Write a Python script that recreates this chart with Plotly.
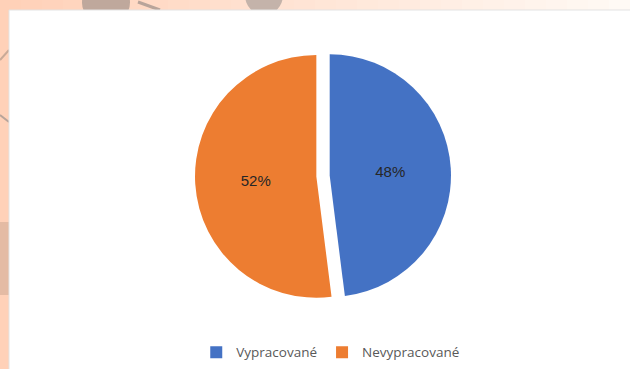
import plotly.graph_objects as go

labels = ["Vypracované", "Nevypracované"]
values = [48, 52]
colors = ["#4472C4", "#ED7D31"]

W, H = 630, 369
ML, MR, MT, MB = 16, 0, 48, 65
PW, PH = W - ML - MR, H - MT - MB

def px(x):
    return (x - ML) / PW

def py(y):
    return (H - MB - y) / PH

fig = go.Figure(go.Pie(
    labels=labels,
    values=values,
    marker=dict(colors=colors, line=dict(color="white", width=0)),
    sort=False,
    direction="clockwise",
    rotation=0,
    pull=[0.055, 0.055],
    textinfo="percent",
    textposition="inside",
    insidetextorientation="horizontal",
    textfont=dict(family="Liberation Sans, Arial, sans-serif", size=15, color="#262626"),
    hoverinfo="label+percent",
))

shapes = []
n = 30
for i in range(n):
    t = i / (n - 1)
    g = int(209 + (250 - 209) * t)
    b = int(184 + (245 - 184) * t)
    shapes.append(dict(type="rect", xref="paper", yref="paper", layer="below",
                       x0=px(W * i / n), x1=px(W * (i + 1) / n + 1), y0=py(10), y1=py(0),
                       fillcolor=f"rgb(255,{g},{b})", line=dict(width=0)))
shapes.append(dict(type="circle", xref="paper", yref="paper", layer="below",
                   x0=px(82), x1=px(130), y0=py(25), y1=py(-20),
                   fillcolor="#BFA89C", line=dict(width=0)))
shapes.append(dict(type="circle", xref="paper", yref="paper", layer="below",
                   x0=px(245), x1=px(283), y0=py(15), y1=py(-25),
                   fillcolor="#C4B3AA", line=dict(width=0)))
shapes.append(dict(type="line", xref="paper", yref="paper", layer="below",
                   x0=px(138), y0=py(2), x1=px(160), y1=py(10),
                   line=dict(color="#B8A49A", width=3)))
shapes.append(dict(type="line", xref="paper", yref="paper", layer="below",
                   x0=px(0), y0=py(60), x1=px(9), y1=py(50),
                   line=dict(color="#C9AA98", width=2)))
shapes.append(dict(type="line", xref="paper", yref="paper", layer="below",
                   x0=px(0), y0=py(115), x1=px(9), y1=py(122),
                   line=dict(color="#B8A49A", width=2)))
shapes.append(dict(type="line", xref="paper", yref="paper", layer="below",
                   x0=px(0), y0=py(275), x1=px(9), y1=py(265),
                   line=dict(color="#B8A49A", width=2)))
shapes.append(dict(type="rect", xref="paper", yref="paper", layer="below",
                   x0=px(0), x1=px(9), y0=py(295), y1=py(222),
                   fillcolor="#E4BBA4", line=dict(width=0)))
shapes.append(dict(type="rect", xref="paper", yref="paper", layer="below",
                   x0=px(9), x1=px(W + 2), y0=py(H + 2), y1=py(10),
                   fillcolor="white", line=dict(color="#E3E3E3", width=1)))

fig.update_layout(
    width=W, height=H,
    margin=dict(l=ML, r=MR, t=MT, b=MB),
    paper_bgcolor="#FFD1B8",
    plot_bgcolor="white",
    shapes=shapes,
    showlegend=True,
    legend=dict(orientation="h", x=0.525, xanchor="center", xref="container",
                y=0.045, yanchor="middle", yref="container",
                font=dict(family="Open Sans, Noto Sans, sans-serif", size=13.5, color="#595959"),
                itemsizing="constant", itemwidth=30, tracegroupgap=0,
                bgcolor="rgba(0,0,0,0)"),
)

fig.write_html("out.html")
